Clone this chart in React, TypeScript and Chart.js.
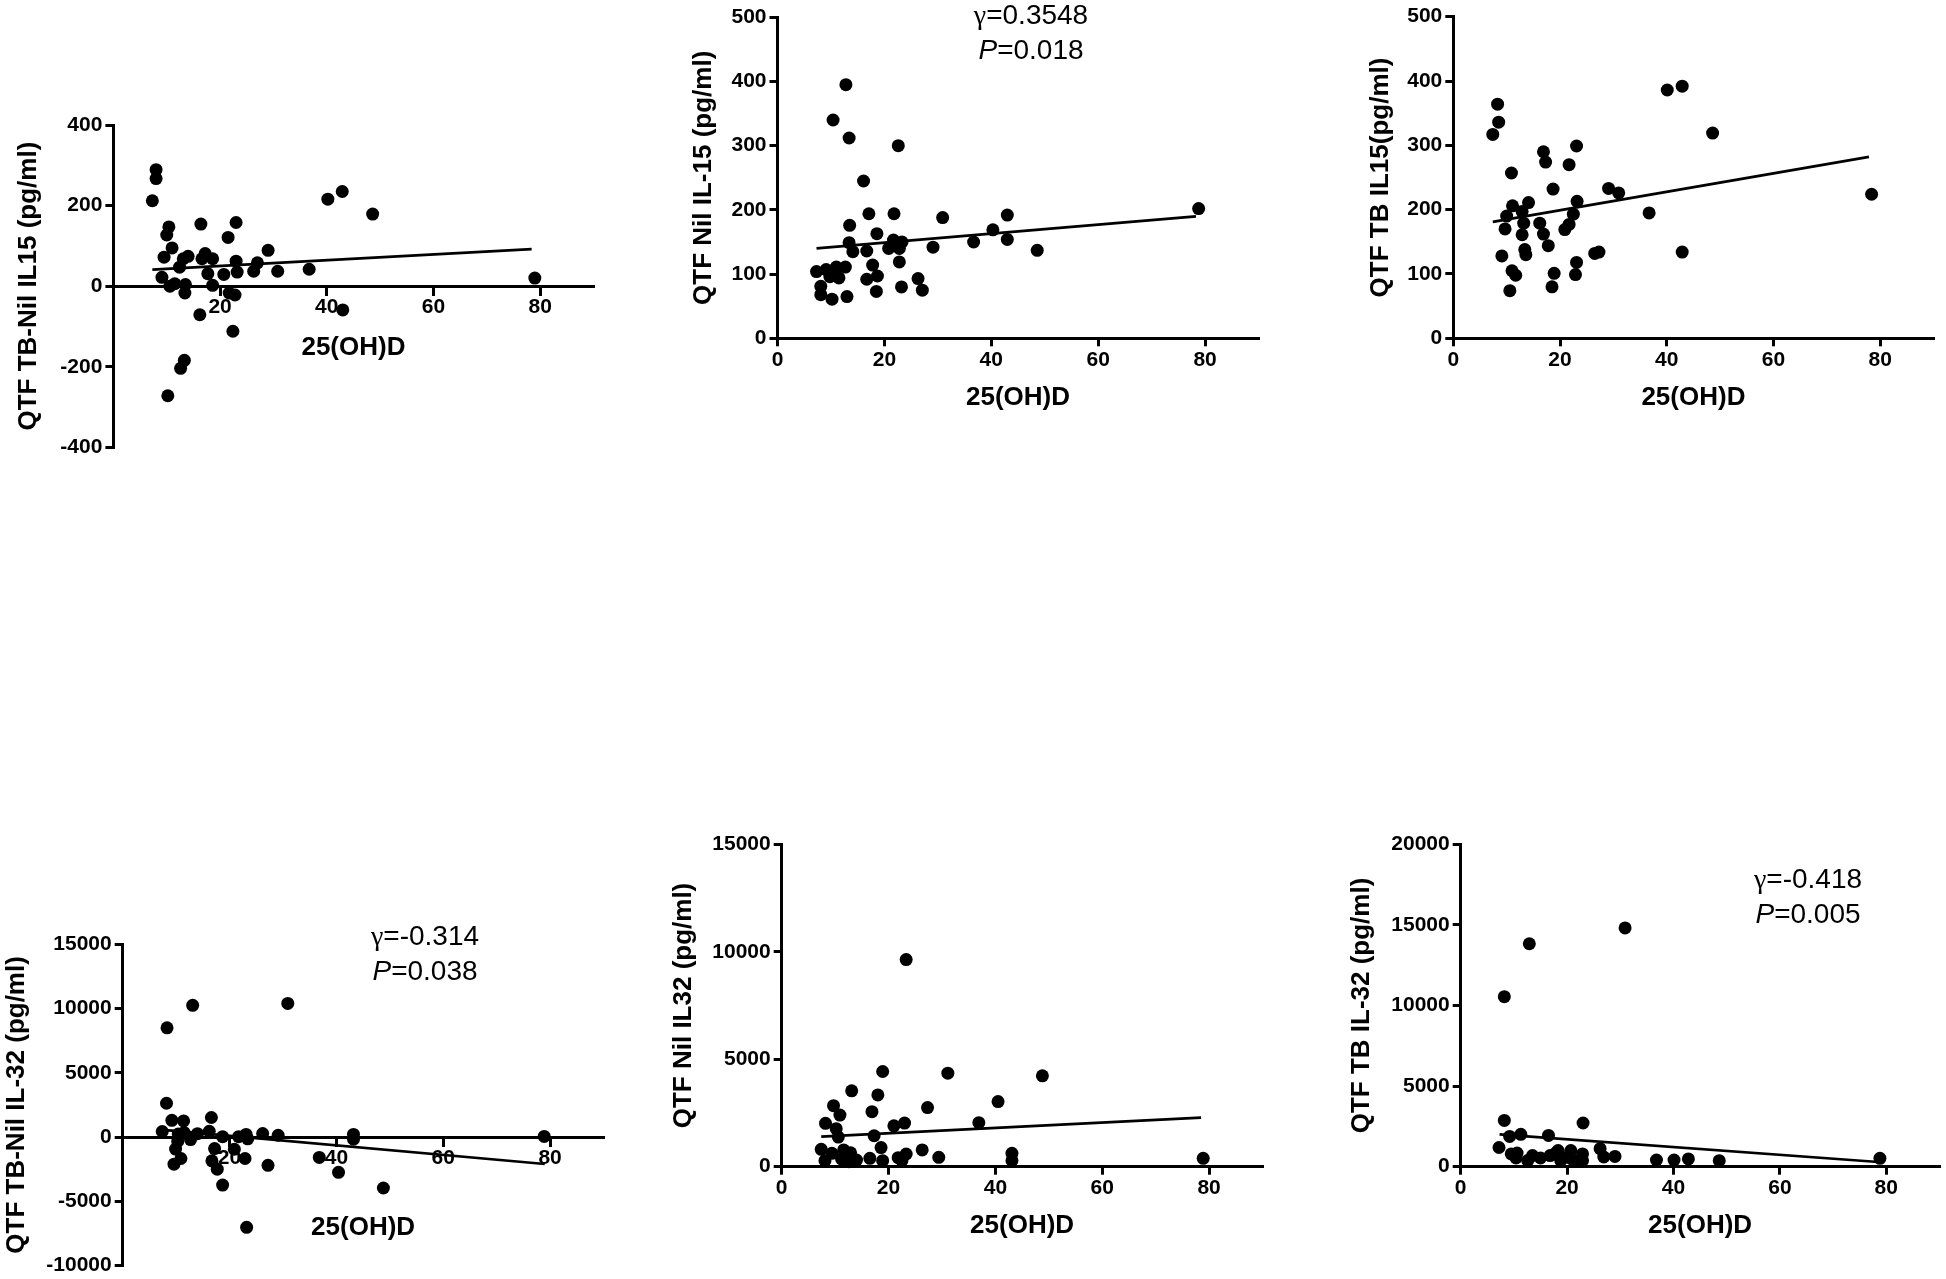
import React, { useEffect, useRef } from 'react';
import { Chart, registerables } from 'chart.js';

Chart.register(...registerables);

const SANS = '"Liberation Sans", Arial, Helvetica, sans-serif';
const SERIF = '"Liberation Serif", "Times New Roman", serif';

// ---------- shared axis data ----------
const xTitle = '25(OH)D';
const xTicksWithZero = [0, 20, 40, 60, 80];
const xTicksNoZero = [20, 40, 60, 80];
const xMin = 0;
const xMax = 90;

// ---------- A: QTF TB-Nil IL15 ----------
const aLabel = 'QTF TB-Nil IL15 (pg/ml)';
const aYTicks = [-400, -200, 0, 200, 400];
const aX = [8.0, 8.0, 7.3, 10.4, 10.0, 11.0, 9.5, 9.1, 10.6, 11.5, 12.4, 13.1, 14.0, 13.5, 13.4, 16.4, 16.6, 17.2, 18.6, 17.7, 18.6, 16.2, 21.5, 23.0, 20.7, 21.7, 22.8, 23.0, 23.2, 22.4, 26.3, 27.0, 29.0, 30.8, 36.7, 40.2, 42.9, 43.0, 48.6, 79.0, 13.3, 12.6, 10.2];
const aY = [289, 267, 212, 147, 127, 95, 72, 22, 0, 6, 47, 68, 74, 4, -17, 154, 68, 81, 68, 31, 2, -71, 121, 158, 29, -17, -22, 62, 35, -112, 37, 58, 89, 37, 42, 216, 235, -59, 179, 20, -184, -204, -272];
const aFitX = [7.3, 78.4];
const aFitY = [41, 92];

// ---------- B: QTF Nil IL-15 ----------
const bLabel = 'QTF Nil IL-15 (pg/ml)';
const bYTicks = [0, 100, 200, 300, 400, 500];
const bX = [12.8, 10.4, 13.4, 22.6, 16.1, 17.1, 21.8, 30.9, 43.0, 78.8, 13.5, 18.6, 40.3, 13.4, 14.1, 16.7, 20.8, 21.7, 23.3, 22.8, 29.1, 36.7, 43.0, 48.6, 22.8, 17.8, 16.7, 18.7, 18.5, 26.3, 27.1, 23.2, 7.3, 9.1, 11.0, 12.7, 9.8, 11.5, 8.1, 8.1, 10.2, 13.0];
const bY = [395, 340, 312, 300, 245, 194, 194, 188, 192, 202, 176, 163, 169, 149, 135, 136, 140, 153, 150, 140, 142, 150, 154, 137, 119, 114, 92, 97, 73, 93, 75, 80, 104, 107, 111, 111, 96, 94, 81, 68, 61, 65];
const bFitX = [7.3, 78.3];
const bFitY = [140, 190];
const bGamma = '=0.3548';
const bP = '=0.018';

// ---------- C: QTF TB IL15 ----------
const cLabel = 'QTF TB IL15(pg/ml)';
const cYTicks = [0, 100, 200, 300, 400, 500];
const cX = [8.3, 8.5, 7.4, 10.9, 10.0, 11.1, 12.9, 14.1, 9.7, 13.2, 12.9, 9.1, 13.4, 13.6, 11.0, 11.7, 10.6, 16.9, 17.3, 21.7, 23.1, 18.7, 16.2, 16.9, 17.8, 18.9, 18.5, 20.9, 21.7, 22.5, 23.2, 23.1, 22.9, 26.5, 27.3, 29.1, 31.0, 36.7, 40.1, 42.9, 42.9, 48.6, 78.4];
const cY = [364, 336, 317, 257, 190, 206, 197, 211, 170, 179, 161, 128, 138, 130, 105, 98, 74, 290, 274, 270, 299, 232, 179, 162, 144, 101, 80, 169, 177, 193, 213, 118, 99, 132, 134, 233, 226, 195, 386, 392, 134, 319, 224];
const cFitX = [7.4, 77.9];
const cFitY = [181, 282];

// ---------- D: QTF TB-Nil IL-32 ----------
const dLabel = 'QTF TB-Nil IL-32 (pg/ml)';
const dYTicks = [-10000, -5000, 0, 5000, 10000, 15000];
const dX = [8.3, 13.1, 30.9, 8.2, 9.2, 11.4, 16.6, 7.4, 10.4, 11.5, 14.0, 16.2, 18.7, 21.7, 23.1, 26.2, 29.1, 43.2, 43.2, 78.9, 12.7, 10.3, 9.9, 10.9, 9.6, 17.2, 16.7, 17.7, 18.7, 20.9, 22.9, 23.4, 27.2, 36.8, 40.4, 48.8, 23.2];
const dY = [8500, 10250, 10400, 2630, 1300, 1250, 1520, 430, 230, 350, 260, 450, 30, 30, 200, 270, 140, 200, -170, 50, -200, -340, -940, -1670, -2110, -900, -1850, -2500, -3740, -950, -1670, -140, -2200, -1590, -2750, -3970, -7030];
const dFitX = [7.6, 79.0];
const dFitY = [560, -2100];
const dGamma = '=-0.314';
const dP = '=0.038';

// ---------- E: QTF Nil IL32 ----------
const eLabel = 'QTF Nil IL32 (pg/ml)';
const eYTicks = [0, 5000, 10000, 15000];
const eX = [23.3, 18.9, 31.1, 48.8, 13.1, 18.0, 40.5, 9.7, 27.3, 16.9, 10.9, 8.2, 23.0, 21.0, 36.9, 10.2, 10.6, 17.3, 18.6, 7.4, 9.4, 11.6, 12.9, 26.3, 23.3, 43.1, 43.1, 29.4, 21.8, 78.9, 8.1, 11.2, 14.0, 16.5, 18.9, 22.5, 12.6];
const eY = [9635, 4430, 4350, 4230, 3530, 3340, 3030, 2840, 2750, 2560, 2400, 2020, 2030, 1900, 2050, 1770, 1380, 1440, 890, 810, 620, 780, 650, 780, 590, 620, 280, 435, 420, 390, 280, 360, 310, 390, 280, 280, 230];
const eFitX = [7.4, 78.5];
const eFitY = [1400, 2280];

// ---------- F: QTF TB IL-32 ----------
const fLabel = 'QTF TB IL-32 (pg/ml)';
const fYTicks = [0, 5000, 10000, 15000, 20000];
const fX = [30.9, 12.9, 8.2, 8.2, 23.0, 9.2, 11.3, 16.5, 7.2, 9.5, 10.6, 10.4, 13.5, 12.6, 16.8, 17.8, 18.3, 18.8, 20.7, 22.9, 22.9, 21.2, 26.2, 26.9, 29.0, 36.8, 40.1, 42.8, 48.6, 78.8, 15.0, 20.0];
const fY = [14810, 13830, 10550, 2870, 2710, 1880, 2010, 1940, 1190, 790, 850, 540, 690, 380, 690, 830, 1000, 380, 1000, 790, 380, 380, 1120, 600, 640, 415, 415, 480, 374, 520, 540, 580];
const fFitX = [7.3, 78.5];
const fFitY = [2000, 290];
const fGamma = '=-0.418';
const fP = '=0.005';

// ---------- layout ----------
type Stat = { gamma: string; p: string; cx: number; base1: number; base2: number };
type PanelDef = {
  xs: number[]; ys: number[]; fitX: number[]; fitY: number[];
  yTicks: number[]; xTicks: number[]; yLabel: string; crossZero: boolean;
  left: number; top: number; width: number; height: number;
  axisW: number; padTop: number; padBottom: number; padRight: number;
  xAxisH: number; yTitlePad: number; stat?: Stat;
};

const panels: PanelDef[] = [
  { xs: aX, ys: aY, fitX: aFitX, fitY: aFitY, yTicks: aYTicks, xTicks: xTicksNoZero, yLabel: aLabel, crossZero: true,
    left: 0, top: 100, width: 600, height: 362, axisW: 113.4, padTop: 25, padBottom: 14.7, padRight: 5.6, xAxisH: 77.2, yTitlePad: 13.4 },
  { xs: bX, ys: bY, fitX: bFitX, fitY: bFitY, yTicks: bYTicks, xTicks: xTicksWithZero, yLabel: bLabel, crossZero: false,
    left: 660, top: 0, width: 605, height: 419, axisW: 117.5, padTop: 17.3, padBottom: 5.1, padRight: 6.5, xAxisH: 75.6, yTitlePad: 28.4,
    stat: { gamma: bGamma, p: bP, cx: 1031, base1: 23.5, base2: 59.3 } },
  { xs: cX, ys: cY, fitX: cFitX, fitY: cFitY, yTicks: cYTicks, xTicks: xTicksWithZero, yLabel: cLabel, crossZero: false,
    left: 1340, top: 0, width: 600, height: 419, axisW: 113.3, padTop: 16.7, padBottom: 5.1, padRight: 5.7, xAxisH: 75.6, yTitlePad: 24.8 },
  { xs: dX, ys: dY, fitX: dFitX, fitY: dFitY, yTicks: dYTicks, xTicks: xTicksNoZero, yLabel: dLabel, crossZero: true,
    left: 0, top: 920, width: 610, height: 359, axisW: 122.7, padTop: 24.3, padBottom: 12.3, padRight: 6.3, xAxisH: 106.2, yTitlePad: 1.4,
    stat: { gamma: dGamma, p: dP, cx: 425, base1: 945, base2: 980 } },
  { xs: eX, ys: eY, fitX: eFitX, fitY: eFitY, yTicks: eYTicks, xTicks: xTicksWithZero, yLabel: eLabel, crossZero: false,
    left: 660, top: 820, width: 609, height: 427, axisW: 121.7, padTop: 24.3, padBottom: 5.4, padRight: 6.3, xAxisH: 74.9, yTitlePad: 7.9 },
  { xs: fX, ys: fY, fitX: fFitX, fitY: fFitY, yTicks: fYTicks, xTicks: xTicksWithZero, yLabel: fLabel, crossZero: false,
    left: 1340, top: 820, width: 606, height: 427, axisW: 120.7, padTop: 24.3, padBottom: 5.4, padRight: 4.3, xAxisH: 74.9, yTitlePad: 6.4,
    stat: { gamma: fGamma, p: fP, cx: 1808, base1: 888, base2: 923 } },
];

const tickFont = { family: SANS, size: 21, weight: 'bold' as const, lineHeight: 1 };
const titleFont = { family: SANS, size: 26, weight: 'bold' as const, lineHeight: 1.2 };
const plainNumber = (v: any) => String(v);

type Run = { text: string; font: string };
function drawRuns(ctx: CanvasRenderingContext2D, runs: Run[], cx: number, baseline: number) {
  let total = 0;
  const widths = runs.map((r) => {
    ctx.font = r.font;
    const w = ctx.measureText(r.text).width;
    total += w;
    return w;
  });
  let x = cx - total / 2;
  ctx.textAlign = 'left';
  ctx.textBaseline = 'alphabetic';
  runs.forEach((r, i) => {
    ctx.font = r.font;
    ctx.fillText(r.text, x, baseline);
    x += widths[i];
  });
}

function Panel({ def }: { def: PanelDef }) {
  const ref = useRef<HTMLCanvasElement | null>(null);
  useEffect(() => {
    const canvas = ref.current;
    if (!canvas) return;
    const points = def.xs.map((x, i) => ({ x, y: def.ys[i] }));
    const fit = def.fitX.map((x, i) => ({ x, y: def.fitY[i] }));
    const yMin = def.yTicks[0];
    const yMax = def.yTicks[def.yTicks.length - 1];

    const statPlugin = {
      id: 'statText',
      afterDraw(chart: any) {
        if (!def.stat) return;
        const ctx: CanvasRenderingContext2D = chart.ctx;
        const s = def.stat;
        ctx.save();
        ctx.fillStyle = '#000';
        drawRuns(ctx, [
          { text: 'γ', font: `28px ${SERIF}` },
          { text: s.gamma, font: `28px ${SANS}` },
        ], s.cx - def.left, s.base1 - def.top);
        drawRuns(ctx, [
          { text: 'P', font: `italic 28px ${SANS}` },
          { text: s.p, font: `28px ${SANS}` },
        ], s.cx - def.left, s.base2 - def.top);
        ctx.restore();
      },
    };

    const axisGrid = {
      display: true,
      drawOnChartArea: false,
      drawTicks: true,
      tickLength: 8,
      tickWidth: 3,
      tickColor: '#000',
      color: '#000',
      lineWidth: 3,
    };

    const chart = new Chart(canvas, {
      type: 'scatter',
      data: {
        datasets: [
          {
            data: points,
            pointRadius: 6.5,
            pointHoverRadius: 6.5,
            pointBorderWidth: 0,
            backgroundColor: '#000',
            borderColor: '#000',
            showLine: false,
            clip: false,
          } as any,
          {
            data: fit,
            showLine: true,
            pointRadius: 0,
            pointHoverRadius: 0,
            borderColor: '#000',
            borderWidth: 2.7,
            backgroundColor: '#000',
            fill: false,
            clip: false,
          } as any,
        ],
      },
      options: {
        responsive: false,
        animation: false,
        events: [],
        devicePixelRatio: 1,
        layout: { padding: { top: def.padTop, right: def.padRight, bottom: def.padBottom, left: 0 } },
        plugins: { legend: { display: false }, tooltip: { enabled: false } },
        scales: {
          x: {
            type: 'linear',
            min: xMin,
            max: xMax,
            position: def.crossZero ? ({ y: 0 } as any) : 'bottom',
            afterBuildTicks: (s: any) => { s.ticks = def.xTicks.map((v) => ({ value: v })); },
            afterFit: (s: any) => { s.height = def.xAxisH; },
            grid: axisGrid,
            border: { display: true, color: '#000', width: 3 },
            ticks: { color: '#000', font: tickFont, padding: 3, maxRotation: 0, autoSkip: false, callback: plainNumber },
            title: { display: true, text: xTitle, color: '#000', font: titleFont, padding: { top: 0, bottom: 0 } },
          } as any,
          y: {
            type: 'linear',
            min: yMin,
            max: yMax,
            position: 'left',
            afterBuildTicks: (s: any) => { s.ticks = def.yTicks.map((v) => ({ value: v })); },
            afterFit: (s: any) => { s.width = def.axisW; },
            grid: axisGrid,
            border: { display: true, color: '#000', width: 3 },
            ticks: { color: '#000', font: tickFont, padding: 3, autoSkip: false, callback: plainNumber },
            title: { display: true, text: def.yLabel, color: '#000', font: titleFont, padding: { top: def.yTitlePad, bottom: 0 } },
          } as any,
        },
      },
      plugins: [statPlugin],
    } as any);
    return () => chart.destroy();
  }, [def]);

  return (
    <canvas
      ref={ref}
      width={def.width}
      height={def.height}
      style={{ position: 'absolute', left: def.left, top: def.top, width: def.width, height: def.height }}
    />
  );
}

export default function App() {
  return (
    <div style={{ position: 'absolute', left: 0, top: 0, width: 1946, height: 1279, background: '#fff', overflow: 'hidden' }}>
      {panels.map((p, i) => (
        <Panel key={i} def={p} />
      ))}
    </div>
  );
}
